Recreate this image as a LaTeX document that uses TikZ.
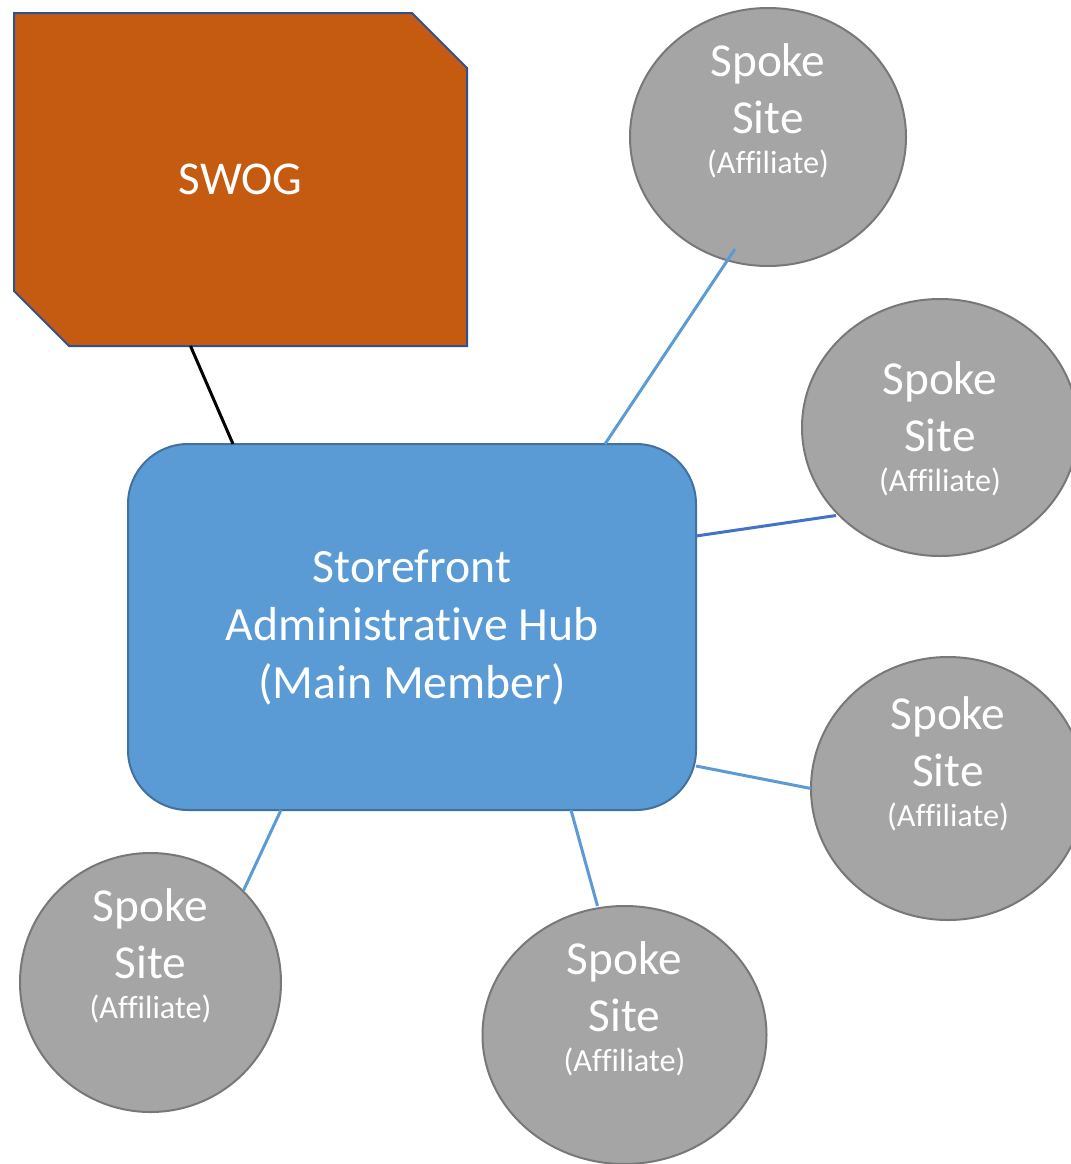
\documentclass[tikz,border=0pt]{standalone}
\usepackage{fontspec}
\setmainfont{Carlito}[Ligatures={NoCommon,NoContextual}]
\usetikzlibrary{shapes.geometric,calc,backgrounds}
\definecolor{swogfill}{HTML}{C55A11}
\definecolor{swogline}{HTML}{2F528F}
\definecolor{hubfill}{HTML}{5B9BD5}
\definecolor{hubline}{HTML}{41719C}
\definecolor{spokefill}{HTML}{A5A5A5}
\definecolor{spokeline}{HTML}{787878}
\definecolor{linkblue}{HTML}{5B9BD5}
\definecolor{linkdark}{HTML}{4472C4}
\newcommand{\bigtxt}{\fontsize{35.5}{43}\selectfont}
\newcommand{\afftxt}{\fontsize{24.2}{28}\selectfont}
\newcommand{\spoketxt}{Spoke\\Site\\[-13pt]{\afftxt (A\mbox{f}\mbox{f}\mbox{i}liate)}}
\tikzset{
  spoke/.style={ellipse, draw=spokeline, fill=spokefill, line width=1.5pt, inner sep=0pt, outer sep=0pt},
  spoketext/.style={text=white, align=center, font=\bigtxt, inner sep=0pt},
  hubbox/.style={rectangle, rounded corners=45pt, draw=hubline, fill=hubfill, line width=1.5pt,
    minimum width=426pt, minimum height=274.5pt, inner sep=0pt, outer sep=0pt,
    text=white, align=center, font=\fontsize{35.8}{43.5}\selectfont},
  swogbox/.style={rectangle, minimum width=339.75pt, minimum height=249.75pt, inner sep=0pt,
    outer sep=0pt, text=white, font=\fontsize{35.3}{40}\selectfont},
  link/.style={draw=linkblue, line width=2.25pt},
}
\begin{document}
\begin{tikzpicture}[x=0.75pt, y=-0.75pt]
\useasboundingbox (0,0) rectangle (1071,1164);
% SWOG
\node[swogbox] (swog) at (240.5,179.5) {SWOG};
\begin{scope}[on background layer]
\filldraw[fill=swogfill, draw=swogline, line width=1.5pt]
  (swog.north west) -- ($(swog.north east)+(-55,0)$) -- ($(swog.north east)+(0,55)$)
  -- (swog.south east) -- ($(swog.south west)+(55,0)$) -- ($(swog.south west)+(0,-55)$) -- cycle;
\end{scope}
% hub
\node[hubbox] (hub) at (412,627) {Storefront\\Administra\mbox{t}\mbox{i}ve Hub\\(Main Member)};
% spokes
\node[spoke, minimum width=207pt, minimum height=193.5pt] (c1) at (768,137) {};
\node[spoke, minimum width=207pt, minimum height=192.75pt] (c2) at (940,427.5) {};
\node[spoke, minimum width=205.5pt, minimum height=197.25pt] (c3) at (948,788.5) {};
\node[spoke, minimum width=195.75pt, minimum height=194.25pt] (c4) at (150.5,982.5) {};
\node[spoke, minimum width=213pt, minimum height=193.5pt] (c5) at (624.5,1035) {};
\node[spoketext] (t1) at ($(c1.center)+(0,-26)$) {\spoketxt};
\node[spoketext] (t2) at ($(c2.center)+(0,1)$) {\spoketxt};
\node[spoketext] (t3) at ($(c3.center)+(0,-25)$) {\spoketxt};
\node[spoketext] (t4) at ($(c4.center)+(0,-27)$) {\spoketxt};
\node[spoketext] (t5) at ($(c5.center)+(0,-26)$) {\spoketxt};
% connectors
\draw[line width=2.25pt, black] ($(swog.south)+(-50,0)$) -- ($(hub.north)+(-179,0)$);
\draw[link] ($(hub.north)+(193,0)$) -- ($(c1.center)+(-33,112)$);
\draw[link, draw=linkdark] ($(hub.east)+(0,-91)$) -- ($(c2.center)+(-104,88)$);
\draw[link] ($(hub.east)+(0,139)$) -- (c3.west);
\draw[link] ($(hub.south)+(-131,0)$) -- ($(c4.center)+(93,-92)$);
\draw[link] ($(hub.south)+(159,0)$) -- ($(c5.center)+(-27,-129)$);
\end{tikzpicture}
\end{document}
